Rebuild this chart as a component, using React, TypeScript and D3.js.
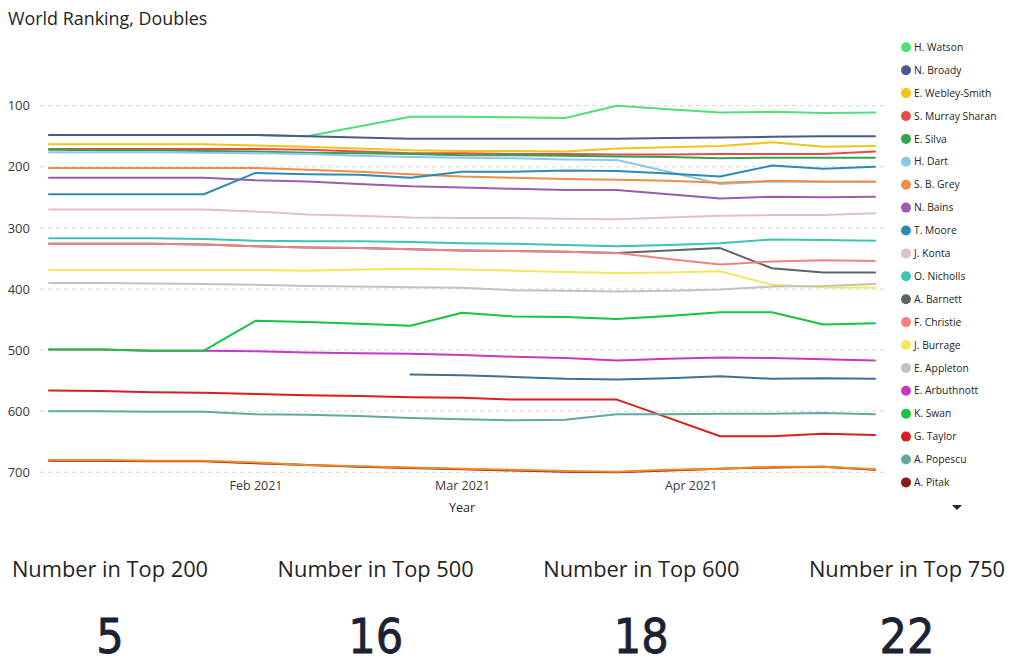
import React, { useEffect, useRef } from 'react';
import * as d3 from 'd3';

// weekly ranking dates
const weeks = [
  '2021-01-04', '2021-01-11', '2021-01-18', '2021-01-25', '2021-02-01', '2021-02-08',
  '2021-02-15', '2021-02-22', '2021-03-01', '2021-03-08', '2021-03-15', '2021-03-22',
  '2021-03-29', '2021-04-05', '2021-04-12', '2021-04-19', '2021-04-26',
];

const watson = [148, 148, 148, 148, 148, 150, 134, 118, 118, 119, 120, 100, 106, 111, 110, 112, 111];
const broady = [148, 148, 148, 148, 148, 150, 152, 154, 154, 154, 154, 154, 153, 152, 151, 150, 150];
const webleySmith = [163, 163, 163, 163, 165, 167, 170, 173, 174, 174, 175, 170, 168, 166, 160, 167, 166];
const murraySharan = [171, 171, 171, 171, 171, 172, 175, 178, 178, 179, 179, 180, 180, 179, 179, 179, 175];
const silva = [172, 173, 173, 174, 175, 177, 178, 179, 181, 181, 182, 183, 184, 186, 185, 185, 185];
const dart = [176, 176, 176, 177, 178, 179, 182, 184, 185, 186, 188, 189, 208, 228, 224, 225, 225];
const grey = [202, 202, 202, 202, 202, 205, 208, 212, 216, 218, 220, 221, 223, 226, 223, 224, 224];
const bains = [218, 218, 218, 218, 222, 224, 228, 232, 234, 236, 238, 238, 245, 252, 249, 250, 249];
const moore = [245, 245, 245, 245, 210, 212, 213, 218, 208, 208, 206, 207, 211, 216, 198, 203, 200];
const konta = [270, 270, 270, 270, 273, 278, 280, 283, 284, 284, 285, 286, 283, 280, 279, 279, 276];
const nicholls = [317, 317, 317, 318, 321, 322, 322, 323, 325, 326, 328, 330, 328, 325, 319, 320, 321];
const barnett = [326, 326, 326, 327, 330, 332, 333, 335, 337, 338, 339, 341, 337, 333, 366, 373, 373];
const christie = [326, 326, 326, 327, 330, 332, 333, 335, 337, 338, 339, 341, 351, 360, 355, 353, 354];
const burrage = [369, 369, 369, 369, 369, 370, 368, 367, 368, 370, 372, 374, 373, 371, 393, 397, 398];
const appleton = [390, 390, 391, 392, 393, 395, 396, 397, 398, 402, 403, 404, 403, 401, 396, 395, 392];
const arbuthnott = [499, 499, 501, 501, 502, 504, 505, 506, 508, 511, 513, 517, 514, 512, 513, 515, 517];
const swan = [499, 499, 501, 501, 452, 454, 457, 460, 439, 445, 446, 449, 444, 438, 438, 458, 456];
const taylor = [566, 567, 569, 570, 572, 574, 575, 577, 578, 581, 581, 581, 611, 641, 641, 637, 639];
const popescu = [600, 600, 601, 601, 605, 606, 608, 611, 613, 615, 614, 605, 605, 604, 604, 603, 605];
const pitak = [681, 681, 682, 682, 685, 688, 691, 693, 695, 697, 699, 700, 697, 694, 692, 691, 696];
// two more players further down the (scrolled) legend
const player21 = [680, 680, 681, 681, 684, 688, 690, 692, 694, 696, 698, 699, 696, 694, 691, 691, 695];
const player22 = [null, null, null, null, null, null, null, 540, 541, 544, 547, 548, 546, 543, 547, 546, 547];

const players = [
  'H. Watson', 'N. Broady', 'E. Webley-Smith', 'S. Murray Sharan', 'E. Silva', 'H. Dart',
  'S. B. Grey', 'N. Bains', 'T. Moore', 'J. Konta', 'O. Nicholls', 'A. Barnett', 'F. Christie',
  'J. Burrage', 'E. Appleton', 'E. Arbuthnott', 'K. Swan', 'G. Taylor', 'A. Popescu', 'A. Pitak',
  'Player 21', 'Player 22',
];
const rankings = [
  watson, broady, webleySmith, murraySharan, silva, dart, grey, bains, moore, konta, nicholls,
  barnett, christie, burrage, appleton, arbuthnott, swan, taylor, popescu, pitak, player21, player22,
];
const colors = [
  '#4fe07a', '#4a5a8c', '#f2c318', '#e84a4a', '#2ea550', '#8ec6ea', '#f28c46', '#9a5ea8',
  '#2b8bb5', '#dfc2c9', '#3ec3b4', '#5c6464', '#f28282', '#f2e85a', '#c2c2c2', '#c43ac4',
  '#17c443', '#d81e1e', '#5ea9a0', '#8a1c1c', '#f08a24', '#3f6f9a',
];
const legendCount = 20;

const yTicks = [100, 200, 300, 400, 500, 600, 700];
const xTicks = ['2021-02-01', '2021-03-01', '2021-04-01'];

const cardLabels = ['Number in Top 200', 'Number in Top 500', 'Number in Top 600', 'Number in Top 750'];
const cardValues = ['5', '16', '18', '22'];

const font = "'Segoe UI', 'Open Sans', sans-serif";

const App = () => {
  const ref = useRef<SVGSVGElement>(null);

  useEffect(() => {
    document.body.style.margin = '0';
    const svg = d3.select(ref.current);
    svg.selectAll('*').remove();

    const parse = d3.timeParse('%Y-%m-%d');
    const dates = weeks.map((w) => parse(w) as Date);

    const x = d3.scaleTime().domain([dates[0], dates[dates.length - 1]]).range([49, 875]);
    const y = d3.scaleLinear().domain([100, 700]).range([105.7, 472.3]);

    // title
    svg
      .append('text')
      .attr('x', 8)
      .attr('y', 25)
      .attr('font-family', font)
      .attr('font-size', 17.9)
      .attr('fill', '#252423')
      .text('World Ranking, Doubles');

    // y axis + dashed grid
    const yAxis = svg
      .append('g')
      .attr('transform', 'translate(40,0)')
      .call(d3.axisLeft(y).tickValues(yTicks).tickSize(0).tickPadding(10));
    yAxis.select('.domain').remove();
    yAxis.selectAll('text').attr('font-family', font).attr('font-size', 13).attr('fill', '#3b3a39');

    svg
      .append('g')
      .selectAll('line')
      .data(yTicks)
      .enter()
      .append('line')
      .attr('x1', 40)
      .attr('x2', 885)
      .attr('y1', (d) => y(d))
      .attr('y2', (d) => y(d))
      .attr('stroke', '#d6d6d6')
      .attr('stroke-width', 1)
      .attr('stroke-dasharray', '4,4');

    // x axis
    const xAxis = svg
      .append('g')
      .attr('transform', 'translate(0,478)')
      .call(
        d3
          .axisBottom(x)
          .tickValues(xTicks.map((t) => parse(t) as Date))
          .tickFormat((d) => d3.timeFormat('%b %Y')(d as Date))
          .tickSize(0)
          .tickPadding(3),
      );
    xAxis.select('.domain').remove();
    xAxis.selectAll('text').attr('font-family', font).attr('font-size', 12.5).attr('fill', '#3b3a39');

    svg
      .append('text')
      .attr('x', 462)
      .attr('y', 512)
      .attr('text-anchor', 'middle')
      .attr('font-family', font)
      .attr('font-size', 12.5)
      .attr('fill', '#252423')
      .text('Year');

    // lines
    const line = d3
      .line<number | null>()
      .defined((d) => d !== null)
      .x((_, i) => x(dates[i]))
      .y((d) => y(d as number));

    svg
      .append('g')
      .selectAll('path')
      .data(rankings)
      .enter()
      .append('path')
      .attr('d', (d) => line(d))
      .attr('fill', 'none')
      .attr('stroke', (_, i) => colors[i])
      .attr('stroke-width', 2)
      .attr('stroke-linejoin', 'round')
      .attr('stroke-linecap', 'round');

    // legend
    const legend = svg
      .append('g')
      .selectAll('g')
      .data(players.slice(0, legendCount))
      .enter()
      .append('g')
      .attr('transform', (_, i) => `translate(906,${47.3 + i * 22.9})`);
    legend.append('circle').attr('r', 5).attr('fill', (_, i) => colors[i]);
    legend
      .append('text')
      .attr('x', 8)
      .attr('dy', '0.35em')
      .attr('font-family', font)
      .attr('font-size', 10.3)
      .attr('fill', '#252423')
      .text((d) => d);

    svg
      .append('path')
      .attr('d', 'M952,505 L962,505 L957,510 Z')
      .attr('fill', '#252423');

    // cards
    const cardX = d3.scalePoint<string>().domain(cardLabels).range([110, 907]);
    const cards = svg
      .append('g')
      .selectAll('g')
      .data(cardLabels)
      .enter()
      .append('g')
      .attr('transform', (d) => `translate(${cardX(d)},0)`);
    cards
      .append('text')
      .attr('y', 577)
      .attr('text-anchor', 'middle')
      .attr('font-family', font)
      .attr('font-size', 21.8)
      .attr('fill', '#252423')
      .text((d) => d);
    cards
      .append('text')
      .attr('y', 653)
      .attr('text-anchor', 'middle')
      .attr('font-family', "'DejaVu Sans Condensed', Roboto, sans-serif")
      .attr('font-size', 48)
      .attr('fill', '#1c2233')
      .attr('stroke', '#1c2233')
      .attr('stroke-width', 0.8)
      .text((_, i) => cardValues[i]);
  }, []);

  return <svg ref={ref} width={1024} height={670} style={{ display: 'block' }} />;
};

export default App;
